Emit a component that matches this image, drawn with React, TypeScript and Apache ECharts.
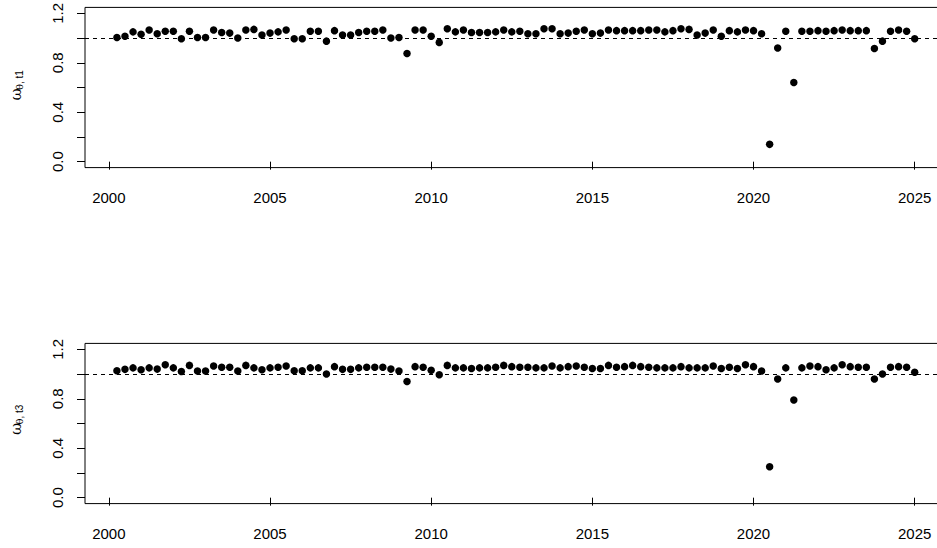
import React, { useEffect, useRef } from "react";
import * as echarts from "echarts";

// ---- data ----
const startYear = 2000.25; // first quarter shown
const quarterStep = 0.25;
const xTicks = [2000, 2005, 2010, 2015, 2020, 2025];
const yTicks = [0, 0.2, 0.4, 0.6, 0.8, 1.0, 1.2];
const yTickLabels = [0, 0.4, 0.8, 1.2];
const referenceLevel = 1;

const omegaT1 = [
  1.005, 1.015, 1.05, 1.03, 1.065, 1.035, 1.055, 1.055, 0.995, 1.055,
  1.005, 1.005, 1.065, 1.045, 1.04, 1.0, 1.065, 1.07, 1.025, 1.04,
  1.05, 1.065, 0.995, 0.995, 1.055, 1.055, 0.975, 1.06, 1.025, 1.025,
  1.045, 1.055, 1.055, 1.065, 1.0, 1.005, 0.875, 1.065, 1.065, 1.015,
  0.965, 1.075, 1.05, 1.065, 1.045, 1.045, 1.045, 1.05, 1.065, 1.05,
  1.055, 1.035, 1.035, 1.075, 1.075, 1.035, 1.04, 1.055, 1.065, 1.035,
  1.04, 1.065, 1.06, 1.06, 1.06, 1.06, 1.065, 1.065, 1.05, 1.06,
  1.075, 1.07, 1.025, 1.04, 1.065, 1.015, 1.06, 1.05, 1.065, 1.06,
  1.035, 0.14, 0.92, 1.055, 0.64, 1.055, 1.055, 1.06, 1.055, 1.06,
  1.065, 1.06, 1.06, 1.06, 0.915, 0.975, 1.055, 1.065, 1.055, 0.995,
];

const omegaT3 = [
  1.027, 1.038, 1.05, 1.035, 1.05, 1.04, 1.075, 1.05, 1.02, 1.07,
  1.025, 1.025, 1.065, 1.055, 1.055, 1.025, 1.07, 1.05, 1.035, 1.05,
  1.055, 1.065, 1.027, 1.027, 1.05, 1.05, 1.0, 1.06, 1.038, 1.038,
  1.05, 1.055, 1.055, 1.055, 1.04, 1.025, 0.94, 1.06, 1.055, 1.03,
  0.995, 1.07, 1.05, 1.05, 1.045, 1.05, 1.05, 1.055, 1.07, 1.06,
  1.055, 1.055, 1.05, 1.05, 1.065, 1.05, 1.06, 1.065, 1.055, 1.045,
  1.045, 1.07, 1.055, 1.06, 1.07, 1.06, 1.055, 1.05, 1.05, 1.05,
  1.06, 1.05, 1.05, 1.05, 1.065, 1.045, 1.055, 1.045, 1.075, 1.06,
  1.025, 0.25, 0.96, 1.05, 0.79, 1.05, 1.065, 1.06, 1.035, 1.05,
  1.075, 1.06, 1.055, 1.055, 0.96, 1.0, 1.055, 1.06, 1.055, 1.015,
];

const panelSubscripts = ["t1", "t3"];

const FONT = "'Liberation Sans', Arial, Helvetica, sans-serif";
const SERIF = "'DejaVu Serif', 'Liberation Serif', serif";

function toPoints(values: number[]) {
  return values.map((v, i) => [startYear + quarterStep * i, v]);
}

export default function App() {
  const ref = useRef<HTMLDivElement>(null);

  useEffect(() => {
    if (!ref.current) return;
    const chart = echarts.init(ref.current, null, { renderer: "svg" });

    const panelTops = [7.4, 343.4];
    const panelHeight = 160.2;
    const seriesList = [omegaT1, omegaT3];

    const grids = panelTops.map((top) => ({
      left: 85,
      top,
      width: 861.6,
      height: panelHeight,
      show: true,
      borderColor: "#000",
      borderWidth: 1,
      backgroundColor: "transparent",
      containLabel: false,
      outerBoundsMode: "none",
    }));

    const xAxes = panelTops.map((_, gi) => ({
      type: "value" as const,
      gridIndex: gi,
      min: 1999.26,
      max: 2025.99,
      axisLine: { show: false },
      splitLine: { show: false },
      axisTick: {
        show: true,
        customValues: xTicks,
        length: 8,
        lineStyle: { color: "#000", width: 1 },
      },
      axisLabel: {
        show: true,
        customValues: xTicks,
        margin: 22,
        fontFamily: FONT,
        fontSize: 15,
        color: "#000",
        formatter: (v: number) => String(v),
      },
    }));

    const yAxes = panelTops.map((_, gi) => ({
      type: "value" as const,
      gridIndex: gi,
      min: -0.048,
      max: 1.248,
      axisLine: { show: false },
      splitLine: { show: false },
      axisTick: {
        show: true,
        customValues: yTicks,
        length: 8,
        lineStyle: { color: "#000", width: 1 },
      },
      axisLabel: {
        show: true,
        customValues: yTickLabels,
        rotate: 90,
        margin: 20,
        fontFamily: FONT,
        fontSize: 15,
        color: "#000",
        formatter: (v: number) => v.toFixed(1),
      },
    }));

    const series = seriesList.map((vals, gi) => ({
      type: "scatter" as const,
      xAxisIndex: gi,
      yAxisIndex: gi,
      data: toPoints(vals),
      symbol: "circle",
      symbolSize: 7.5,
      itemStyle: { color: "#000", opacity: 1 },
      silent: true,
      markLine: {
        silent: true,
        symbol: ["none", "none"],
        label: { show: false },
        lineStyle: { color: "#000", width: 1, type: [4, 4] },
        data: [{ yAxis: referenceLevel }],
      },
    }));

    const titleCenters = [86.5, 421];
    const graphic = titleCenters.map((cy, gi) => ({
      type: "group",
      x: 15.5,
      y: cy,
      rotation: Math.PI / 2,
      children: [
        {
          type: "text",
          x: -14,
          y: 0,
          style: {
            text: "ω",
            font: `15px ${SERIF}`,
            fill: "#000",
            align: "left",
            verticalAlign: "middle",
          },
        },
        {
          type: "text",
          x: -3.5,
          y: 3.5,
          style: {
            text: `{g|θ}{s|, ${panelSubscripts[gi]}}`,
            fill: "#000",
            align: "left",
            verticalAlign: "middle",
            rich: {
              g: { fontFamily: SERIF, fontSize: 10, fill: "#000" },
              s: { fontFamily: FONT, fontSize: 10, fill: "#000" },
            },
          },
        },
      ],
    }));

    chart.setOption({
      animation: false,
      backgroundColor: "#fff",
      grid: grids,
      xAxis: xAxes,
      yAxis: yAxes,
      series,
      graphic,
    });

    return () => chart.dispose();
  }, []);

  return (
    <div
      ref={ref}
      style={{ position: "fixed", left: 0, top: 0, width: 937, height: 548 }}
    />
  );
}
